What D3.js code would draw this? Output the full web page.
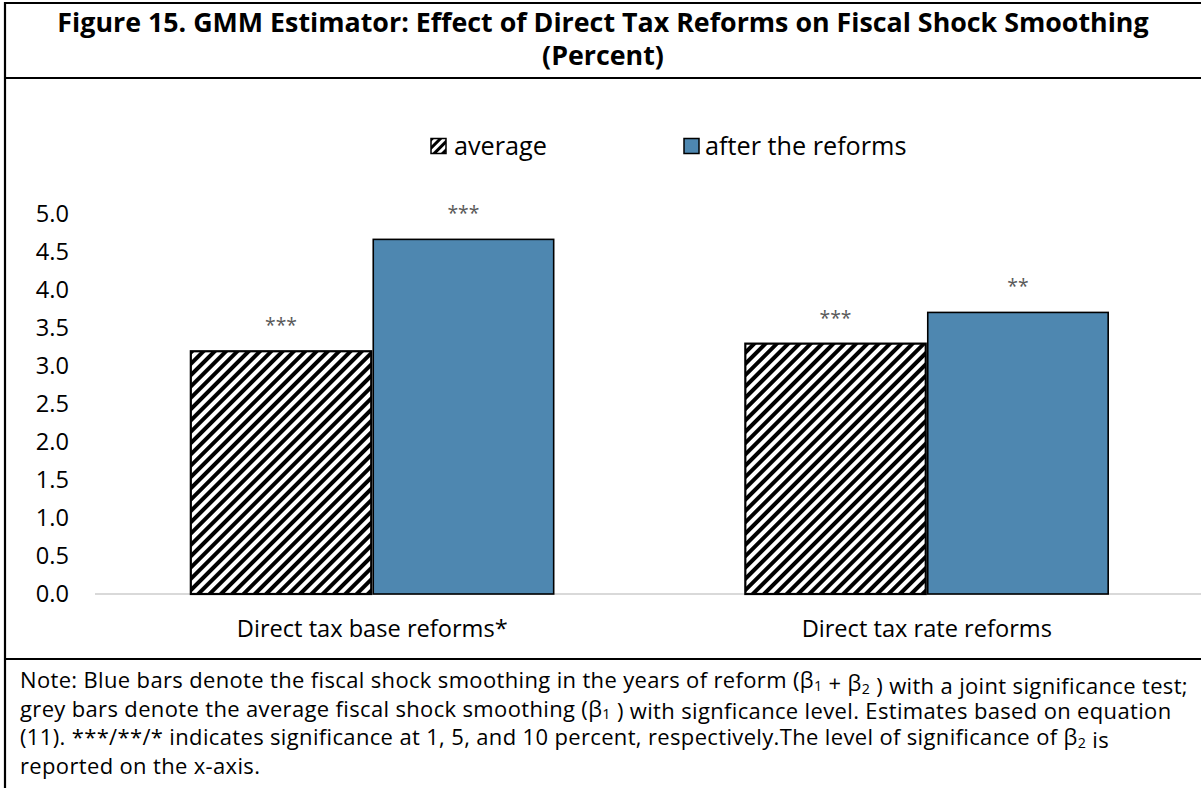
<!DOCTYPE html>
<html><head><meta charset="utf-8">
<script src="https://cdn.jsdelivr.net/npm/d3@7"></script>
<style>body{margin:0;background:#fff} svg{display:block;font-family:"Open Sans",sans-serif}</style>
</head><body>
<svg id="c" width="1201" height="788"></svg>
<script>
// ---- data ----
const categories = ["Direct tax base reforms*", "Direct tax rate reforms"];
const seriesNames = ["average", "after the reforms"];
const averageValues = [3.19, 3.29];
const afterValues = [4.66, 3.70];
const averageStars = ["***", "***"];
const afterStars = ["***", "**"];
const yTickValues = [0, 0.5, 1, 1.5, 2, 2.5, 3, 3.5, 4, 4.5, 5];
const titleLines = ["Figure 15. GMM Estimator: Effect of Direct Tax Reforms on Fiscal Shock Smoothing", "(Percent)"];
const noteLines = [
  [["Note: Blue bars denote the fiscal shock smoothing in the years of reform (β"], ["1", 1], [" + β"], ["2", 1], [" ) with a joint significance test;"]],
  [["grey bars denote the average fiscal shock smoothing (β"], ["1", 1], [" ) with signficance level. Estimates based on equation"]],
  [["(11). ***/**/* indicates significance at 1, 5, and 10 percent, respectively.The level of significance of β"], ["2", 1], [" is"]],
  [["reported on the x-axis."]]
];

const svg = d3.select("#c");
const BLUE = "#4e87b0";

function fit(sel, target, base) {
  sel.style("font-size", base + "px");
  const w = sel.node().getComputedTextLength();
  const fs = base * target / w;
  sel.style("font-size", fs + "px");
  return fs;
}

// hatch pattern
const defs = svg.append("defs");
const pat = defs.append("pattern").attr("id", "hatch").attr("patternUnits", "userSpaceOnUse")
  .attr("width", 8).attr("height", 8).attr("patternTransform", "rotate(45)");
pat.append("rect").attr("width", 8).attr("height", 8).attr("fill", "#fff");
pat.append("rect").attr("width", 4).attr("height", 8).attr("fill", "#000");
const pat2 = defs.append("pattern").attr("id", "hatchL").attr("patternUnits", "userSpaceOnUse")
  .attr("width", 6).attr("height", 6).attr("patternTransform", "rotate(45)");
pat2.append("rect").attr("width", 6).attr("height", 6).attr("fill", "#fff");
pat2.append("rect").attr("width", 3).attr("height", 6).attr("fill", "#000");

// frame
const frame = svg.append("g").attr("stroke", "#000").attr("stroke-width", 2.2).attr("fill", "none");
frame.append("line").attr("x1", 4).attr("x2", 1201).attr("y1", 3).attr("y2", 3);
frame.append("line").attr("x1", 5).attr("x2", 5).attr("y1", 2).attr("y2", 788);
frame.append("line").attr("x1", 5).attr("x2", 1201).attr("y1", 78).attr("y2", 78);
frame.append("line").attr("x1", 5).attr("x2", 1201).attr("y1", 659).attr("y2", 659);

// title
const t1 = svg.append("text").attr("x", 603).attr("y", 32).attr("text-anchor", "middle")
  .attr("font-weight", "bold").attr("fill", "#000").text(titleLines[0]);
const tfs = fit(t1, 1092, 22);
svg.append("text").attr("x", 603).attr("y", 65).attr("text-anchor", "middle")
  .attr("font-weight", "bold").attr("fill", "#000").style("font-size", tfs + "px").text(titleLines[1]);

// scales
const x = d3.scaleBand().domain(categories).range([95, 1204]).paddingInner(0.342).paddingOuter(0.171);
const xs = d3.scaleBand().domain(seriesNames).range([0, x.bandwidth()]);
const y = d3.scaleLinear().domain([0, 5]).range([594, 213.5]);

// category label font size
const probe = svg.append("text").text(categories[0]);
const axFs = fit(probe, 271, 20);
probe.remove();

// y axis
const yAxis = svg.append("g").attr("transform", "translate(69,0)")
  .call(d3.axisLeft(y).tickValues(yTickValues).tickFormat(d3.format(".1f")).tickSize(0).tickPadding(0));
yAxis.select(".domain").remove();
yAxis.selectAll("text").attr("font-family", "Open Sans").style("font-size", axFs + "px").attr("fill", "#000");

// x axis
const xAxis = svg.append("g").attr("transform", "translate(0,594)")
  .call(d3.axisBottom(x).tickSize(0).tickPadding(26));
xAxis.select(".domain").attr("stroke", "#d9d9d9").attr("stroke-width", 2).attr("d", "M95,0H1201");
xAxis.selectAll("text").attr("font-family", "Open Sans").style("font-size", axFs + "px").attr("fill", "#000");

// bars
const rows = categories.map((c, i) => ({c, vals: [
  {s: seriesNames[0], v: averageValues[i], star: averageStars[i]},
  {s: seriesNames[1], v: afterValues[i], star: afterStars[i]}]}));
const grp = svg.append("g").selectAll("g").data(rows).join("g")
  .attr("transform", d => `translate(${x(d.c)},0)`);
grp.selectAll("rect").data(d => d.vals).join("rect")
  .attr("x", d => xs(d.s) + 1).attr("width", xs.bandwidth() - 2)
  .attr("y", d => y(d.v)).attr("height", d => y(0) - y(d.v))
  .attr("fill", d => d.s === seriesNames[0] ? "url(#hatch)" : BLUE)
  .attr("stroke", "#000").attr("stroke-width", d => d.s === seriesNames[0] ? 2.2 : 1.6);
const starT = grp.selectAll("text.star").data(d => d.vals).join("text").attr("class", "star")
  .attr("x", d => xs(d.s) + xs.bandwidth() / 2).attr("y", d => y(d.v) - 19)
  .attr("text-anchor", "middle").attr("fill", "#595959").text(d => d.star);
const sfs = fit(d3.select(starT.nodes()[0]), 32, 18);
starT.style("font-size", sfs + "px");

// legend
const lg = svg.append("g");
const lt1 = lg.append("text").attr("x", 454).attr("y", 146).attr("dy", "0.35em").attr("fill", "#000").text(seriesNames[0]);
const lfs = fit(lt1, 93, 22);
lg.append("rect").attr("x", 431).attr("y", 138.5).attr("width", 15).attr("height", 15)
  .attr("fill", "url(#hatchL)").attr("stroke", "#000").attr("stroke-width", 1.5);
lg.append("rect").attr("x", 684).attr("y", 138.5).attr("width", 15).attr("height", 15)
  .attr("fill", BLUE).attr("stroke", "#000").attr("stroke-width", 1.5);
lg.append("text").attr("x", 705).attr("y", 146).attr("dy", "0.35em").attr("fill", "#000")
  .style("font-size", lfs + "px").text(seriesNames[1]);

// note
const noteBase = [688, 716.5, 745, 773.5];
const notes = noteLines.map((segs, i) => {
  const t = svg.append("text").attr("x", 20).attr("y", noteBase[i]).attr("fill", "#000");
  segs.forEach(([s, sub]) => {
    if (sub) {
      t.append("tspan").style("font-size", "0.65em").attr("dy", "0.2em").text(s);
      t.append("tspan").attr("dy", "-0.13em").style("font-size", "1em").text("");
    } else {
      t.append("tspan").text(s);
    }
  });
  return t;
});
const nfsFull = fit(notes[0], 1168, 20);
const nfs = nfsFull * 0.965;
notes.forEach(t => t.style("font-size", nfs + "px"));
const w0 = notes[0].node().getComputedTextLength();
const n0 = noteLines[0].map(s => s[0]).join("").length;
const ls = Math.max(0, (1168 - w0) / n0);
notes.forEach(t => t.style("letter-spacing", ls + "px"));
</script>
</body></html>
